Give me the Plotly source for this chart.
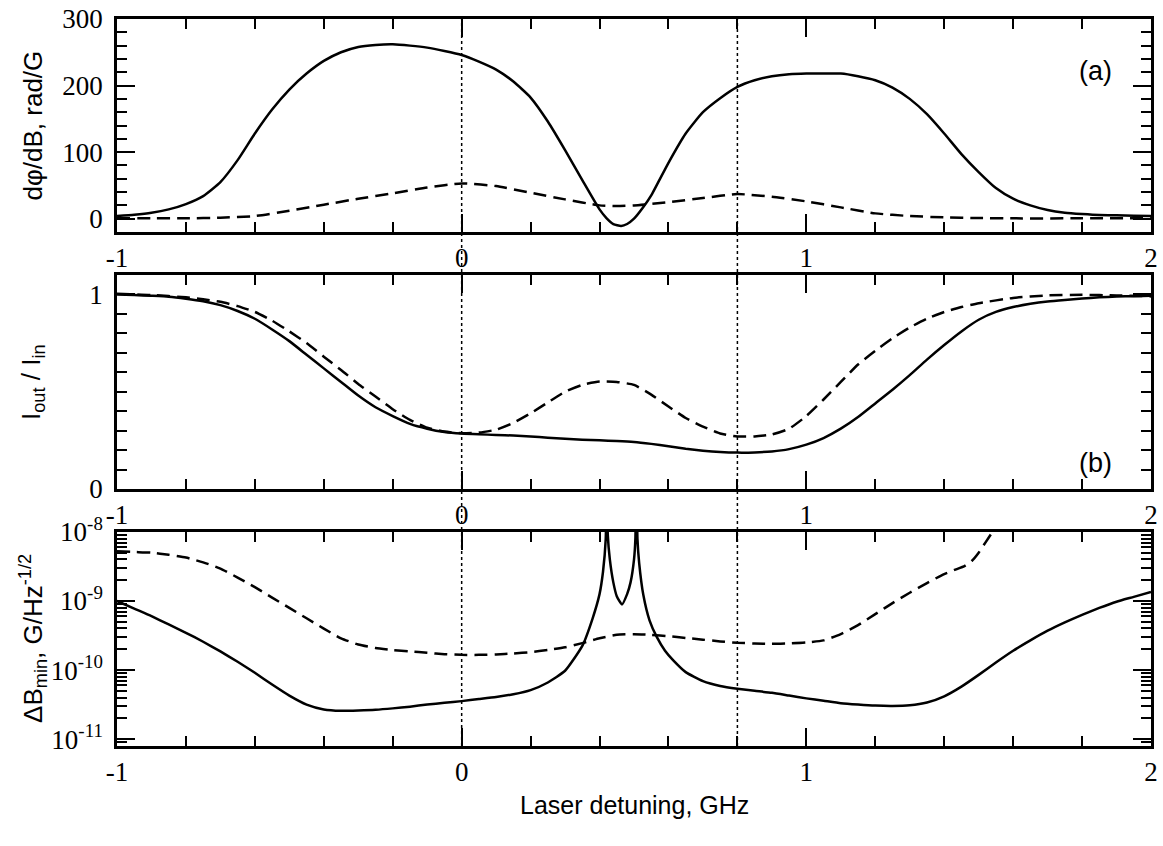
import plotly.graph_objects as go

# ---- (a) phase-rotation slope dphi/dB, rad/G ----
xa_solid = [-1.0, -0.95, -0.9, -0.85, -0.8, -0.75, -0.7, -0.65, -0.6, -0.55, -0.5, -0.45, -0.4,
            -0.35, -0.3, -0.25, -0.2, -0.15, -0.1, -0.05, 0.0, 0.05, 0.1, 0.15, 0.2, 0.25, 0.3,
            0.35, 0.4, 0.42, 0.44, 0.4625, 0.48, 0.5, 0.525, 0.55, 0.6, 0.65, 0.7, 0.75, 0.8,
            0.85, 0.9, 0.95, 1.0, 1.05, 1.1, 1.15, 1.2, 1.25, 1.3, 1.35, 1.4, 1.45, 1.5, 1.55,
            1.6, 1.65, 1.7, 1.75, 1.8, 1.85, 1.9, 1.95, 2.0]
ya_solid = [4, 6, 9, 14, 22, 34, 55, 88, 128, 164, 194, 218, 237,
            250, 258, 261, 262, 260, 257, 252, 246, 236, 224, 206, 182, 146, 103,
            58, 14, 1, -8, -11, -8, 0, 16, 35, 84, 128, 160, 181, 198,
            208, 214, 217, 218, 218, 218, 214, 208, 197, 180, 157, 128, 97, 70, 46,
            30, 20, 13, 9, 7, 5.5, 5, 4.5, 4]

xa_dash = [-1.0, -0.9, -0.8, -0.7, -0.6, -0.5, -0.4, -0.3, -0.2, -0.1, 0.0, 0.1, 0.2, 0.3,
           0.4, 0.45, 0.5, 0.6, 0.7, 0.8, 0.9, 1.0, 1.1, 1.2, 1.3, 1.4, 1.5, 1.6, 1.8, 2.0]
ya_dash = [0.5, 0.5, 0.6, 1.5, 4, 12, 21, 30, 38, 47, 53, 49, 39, 29,
           20, 19, 20, 25, 31, 37, 33, 26, 17, 8, 4, 2, 1, 0.5, 0.5, 0.5]

# ---- (b) transmission I_out / I_in ----
xb_solid = [-1.0, -0.95, -0.9, -0.85, -0.8, -0.75, -0.7, -0.65, -0.6, -0.55, -0.5, -0.45, -0.4,
            -0.35, -0.3, -0.25, -0.2, -0.15, -0.1, -0.05, 0.0, 0.05, 0.1, 0.15, 0.2, 0.25, 0.3,
            0.35, 0.4, 0.45, 0.5, 0.55, 0.6, 0.65, 0.7, 0.75, 0.8, 0.85, 0.9, 0.95, 1.0, 1.05,
            1.1, 1.15, 1.2, 1.25, 1.3, 1.35, 1.4, 1.45, 1.5, 1.55, 1.6, 1.65, 1.7, 1.75, 1.8,
            1.85, 1.9, 1.95, 2.0]
yb_solid = [1.0, 0.997, 0.993, 0.988, 0.978, 0.965, 0.945, 0.915, 0.875, 0.82, 0.76, 0.69, 0.62,
            0.55, 0.48, 0.42, 0.375, 0.335, 0.31, 0.293, 0.285, 0.281, 0.278, 0.275, 0.27, 0.264,
            0.258, 0.253, 0.25, 0.247, 0.242, 0.232, 0.22, 0.207, 0.197, 0.19, 0.187, 0.188,
            0.193, 0.205, 0.228, 0.262, 0.31, 0.37, 0.44, 0.51, 0.585, 0.665, 0.74, 0.81, 0.87,
            0.91, 0.935, 0.952, 0.964, 0.972, 0.979, 0.985, 0.989, 0.991, 0.993]

xb_dash = [-1.0, -0.9, -0.8, -0.75, -0.7, -0.65, -0.6, -0.55, -0.5, -0.45, -0.4, -0.35, -0.3,
           -0.25, -0.2, -0.15, -0.1, -0.05, 0.0, 0.05, 0.1, 0.15, 0.2, 0.25, 0.3, 0.35, 0.4,
           0.45, 0.5, 0.55, 0.6, 0.65, 0.7, 0.75, 0.8, 0.85, 0.9, 0.95, 1.0, 1.05, 1.1, 1.15,
           1.2, 1.25, 1.3, 1.35, 1.4, 1.45, 1.5, 1.6, 1.7, 1.8, 1.9, 2.0]
yb_dash = [1.003, 0.997, 0.985, 0.975, 0.962, 0.94, 0.91, 0.865, 0.81, 0.75, 0.68, 0.612, 0.54,
           0.475, 0.41, 0.355, 0.315, 0.295, 0.287, 0.29, 0.305, 0.34, 0.389, 0.445, 0.5, 0.535,
           0.552, 0.55, 0.535, 0.485, 0.424, 0.365, 0.321, 0.285, 0.27, 0.27, 0.28, 0.31, 0.375,
           0.46, 0.55, 0.64, 0.71, 0.775, 0.83, 0.875, 0.91, 0.935, 0.955, 0.982, 0.995, 0.998,
           0.995, 0.99]

# ---- (c) sensitivity dB_min, G/Hz^-1/2 (decade exponents) ----
xc_solid = [-1.0, -0.95, -0.9, -0.85, -0.8, -0.75, -0.7, -0.65, -0.6, -0.55, -0.5, -0.45, -0.4,
            -0.35, -0.3, -0.25, -0.2, -0.15, -0.1, -0.05, 0.0, 0.05, 0.1, 0.15, 0.2, 0.25, 0.3,
            0.35, 0.38, 0.40, 0.41, 0.418, 0.421, 0.424, 0.43, 0.44, 0.45, 0.465, 0.48, 0.49,
            0.50, 0.504, 0.507, 0.51, 0.515, 0.527, 0.545, 0.566, 0.59, 0.614, 0.65, 0.7, 0.75,
            0.8, 0.85, 0.9, 0.95, 1.0, 1.05, 1.1, 1.15, 1.2, 1.25, 1.3, 1.35, 1.4, 1.45, 1.5,
            1.55, 1.6, 1.65, 1.7, 1.75, 1.8, 1.85, 1.9, 1.95, 2.0]
yc_solid_exp = [-9.00, -9.11, -9.22, -9.34, -9.46, -9.59, -9.73, -9.88, -10.04, -10.21, -10.37,
                -10.50, -10.57, -10.59, -10.585, -10.575, -10.555, -10.53, -10.50, -10.475, -10.45,
                -10.42, -10.39, -10.35, -10.29, -10.18, -10.01, -9.65, -9.25, -8.90, -8.58, -8.10,
                -7.0, -8.05, -8.40, -8.73, -8.93, -9.05, -8.90, -8.73, -8.40, -8.10, -7.0, -8.10,
                -8.45, -8.91, -9.28, -9.52, -9.72, -9.86, -10.03, -10.16, -10.23, -10.27, -10.30,
                -10.33, -10.37, -10.41, -10.445, -10.48, -10.50, -10.515, -10.52, -10.51, -10.47,
                -10.38, -10.24, -10.07, -9.89, -9.72, -9.57, -9.43, -9.31, -9.20, -9.10, -9.01,
                -8.94, -8.87]

xc_dash = [-1.0, -0.95, -0.9, -0.85, -0.8, -0.75, -0.7, -0.65, -0.6, -0.55, -0.5, -0.45, -0.4,
           -0.35, -0.3, -0.25, -0.2, -0.15, -0.1, -0.05, 0.0, 0.05, 0.1, 0.15, 0.2, 0.25, 0.3,
           0.35, 0.4, 0.45, 0.5, 0.55, 0.6, 0.65, 0.7, 0.75, 0.8, 0.85, 0.9, 0.95, 1.0, 1.05,
           1.1, 1.15, 1.2, 1.25, 1.3, 1.35, 1.4, 1.43, 1.46, 1.48, 1.50, 1.52, 1.54, 1.55]
yc_dash_exp = [-8.28, -8.29, -8.30, -8.33, -8.37, -8.44, -8.53, -8.66, -8.80, -8.95, -9.10, -9.25,
               -9.40, -9.54, -9.63, -9.68, -9.71, -9.73, -9.75, -9.77, -9.78, -9.78, -9.775,
               -9.76, -9.74, -9.71, -9.67, -9.61, -9.54, -9.49, -9.48, -9.49, -9.51, -9.535,
               -9.56, -9.585, -9.605, -9.615, -9.62, -9.615, -9.60, -9.57, -9.48, -9.35, -9.19,
               -9.03, -8.88, -8.74, -8.61, -8.55, -8.49, -8.42, -8.30, -8.15, -8.0, -7.93]

yc_solid = [10 ** e for e in yc_solid_exp]
yc_dash = [10 ** e for e in yc_dash_exp]

x_range = [-1, 2]
marker_lines = [0.0, 0.8]

BLACK = "#000000"
SERIF = "Liberation Serif, Times New Roman, Tinos, DejaVu Serif, serif"
SANS = "Liberation Sans, Arial, Helvetica, sans-serif"

solid = dict(color=BLACK, width=2.5)
dashed = dict(color=BLACK, width=2.5, dash="13px,7px")
smooth = dict(shape="spline", smoothing=0.5)

fig = go.Figure()
fig.add_trace(go.Scatter(x=xa_solid, y=ya_solid, mode="lines", line=dict(**solid, **smooth),
                         xaxis="x", yaxis="y"))
fig.add_trace(go.Scatter(x=xa_dash, y=ya_dash, mode="lines", line=dict(**dashed, **smooth),
                         xaxis="x", yaxis="y"))
fig.add_trace(go.Scatter(x=xb_solid, y=yb_solid, mode="lines", line=dict(**solid, **smooth),
                         xaxis="x2", yaxis="y2"))
fig.add_trace(go.Scatter(x=xb_dash, y=yb_dash, mode="lines", line=dict(**dashed, **smooth),
                         xaxis="x2", yaxis="y2"))
fig.add_trace(go.Scatter(x=xc_solid, y=yc_solid, mode="lines", line=dict(**solid, **smooth),
                         xaxis="x3", yaxis="y3"))
fig.add_trace(go.Scatter(x=xc_dash, y=yc_dash, mode="lines", line=dict(**dashed, **smooth),
                         xaxis="x3", yaxis="y3"))

common_x = dict(
    range=x_range, showline=True, linecolor=BLACK, linewidth=2.5, mirror="ticks",
    ticks="inside", ticklen=18, tickwidth=2, tickcolor=BLACK,
    tickvals=[-1, 0, 1, 2], ticktext=["-1", "0", "1", "2"],
    minor=dict(ticks="inside", dtick=0.2, tick0=0, ticklen=10, tickwidth=2, tickcolor=BLACK),
    showgrid=False, zeroline=False, automargin=False,
    tickfont=dict(family=SERIF, size=27, color=BLACK),
)
common_y = dict(
    showline=True, linecolor=BLACK, linewidth=2.5, mirror="ticks",
    ticks="inside", ticklen=18, tickwidth=2, tickcolor=BLACK,
    showgrid=False, zeroline=False, ticklabelstandoff=6, automargin=False,
    tickfont=dict(family=SERIF, size=27, color=BLACK),
)

dom_a = [0.707, 1.0]
dom_b = [0.3535, 0.6479]
dom_c = [0.0, 0.2944]

fig.update_layout(
    template="none",
    width=1163, height=846,
    margin=dict(l=117, r=12, t=19, b=100, pad=0),
    paper_bgcolor="white", plot_bgcolor="white",
    showlegend=False,
    xaxis=dict(**common_x, anchor="y"),
    yaxis=dict(**common_y, domain=dom_a, range=[-20, 300], tickvals=[0, 100, 200, 300],
               minor=dict(ticks="inside", dtick=20, tick0=0, ticklen=10, tickwidth=2, tickcolor=BLACK)),
    xaxis2=dict(**common_x, anchor="y2"),
    yaxis2=dict(**common_y, domain=dom_b, range=[0, 1.1], tickvals=[0, 1],
                minor=dict(ticks="inside", dtick=0.1, tick0=0, ticklen=10, tickwidth=2, tickcolor=BLACK)),
    xaxis3=dict(**common_x, anchor="y3"),
    yaxis3=dict(**common_y, domain=dom_c, type="log", range=[-11.1, -8.0],
                tickvals=[1e-11, 1e-10, 1e-9, 1e-8],
                ticktext=["10<sup>-11</sup>", "10<sup>-10</sup>", "10<sup>-9</sup>", "10<sup>-8</sup>"],
                minor=dict(ticks="inside", dtick="D1", ticklen=10, tickwidth=2, tickcolor=BLACK)),
)

for xv in marker_lines:
    fig.add_shape(type="line", xref="x", yref="paper", x0=xv, x1=xv, y0=0, y1=1,
                  line=dict(color=BLACK, width=1.5, dash="dot"), layer="below")

title_font = dict(family=SANS, size=26, color=BLACK)
y_titles = [
    ("d\u03c6/dB, rad/G", sum(dom_a) / 2),
    ("I<sub>out</sub> / I<sub>in</sub>", sum(dom_b) / 2),
    ("\u0394B<sub>min</sub>, G/Hz<sup>-1/2</sup>", sum(dom_c) / 2),
]
for text, yc in y_titles:
    fig.add_annotation(text=text, xref="paper", yref="paper", x=0, y=yc, xanchor="center",
                       yanchor="middle", xshift=-84, textangle=-90, showarrow=False, font=title_font)

fig.add_annotation(text="Laser detuning, GHz", xref="paper", yref="paper", x=0.5, y=0,
                   xanchor="center", yanchor="middle", yshift=-59, showarrow=False,
                   font=dict(family=SANS, size=25, color=BLACK))

panel_font = dict(family=SANS, size=27, color=BLACK)
fig.add_annotation(text="(a)", xref="x", yref="y", x=1.84, y=222, showarrow=False, font=panel_font)
fig.add_annotation(text="(b)", xref="x2", yref="y2", x=1.84, y=0.135, showarrow=False, font=panel_font)
fig.add_annotation(text="(c)", xref="x3", yref="y3", x=1.84, y=10 ** -8.47, showarrow=False, font=panel_font)

fig.write_html("out.html")
